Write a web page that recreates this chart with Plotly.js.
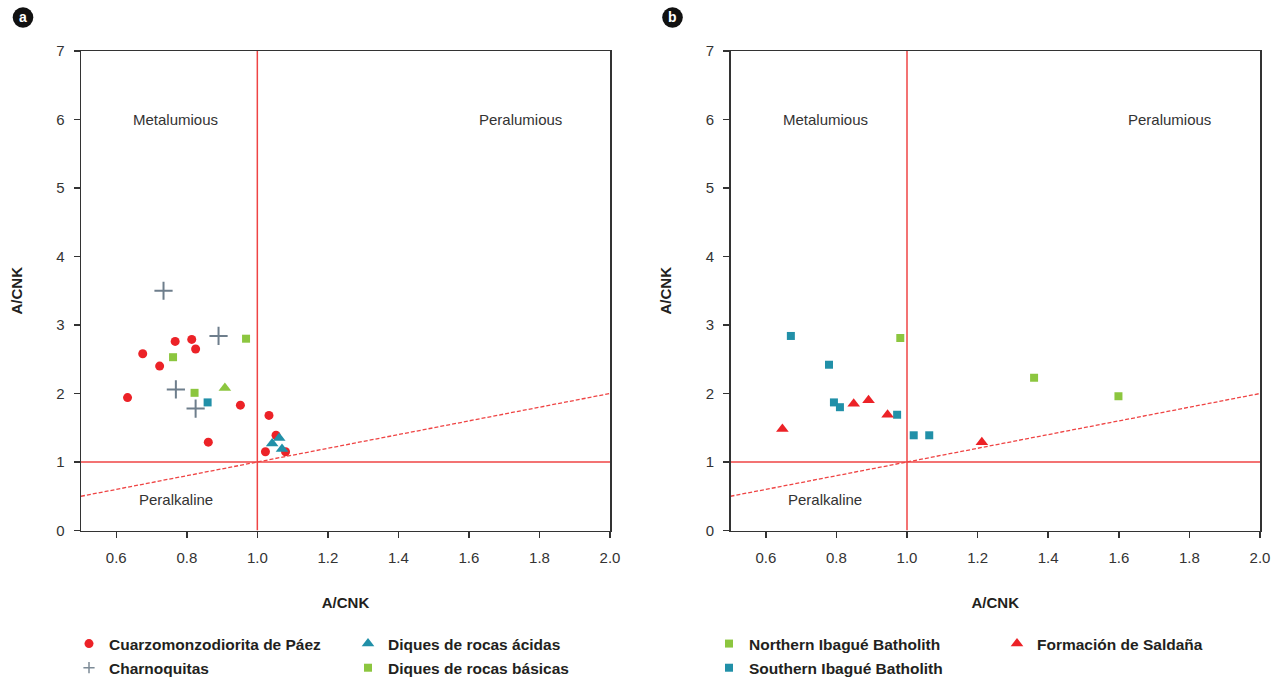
<!DOCTYPE html>
<html>
<head>
<meta charset="utf-8">
<script src="https://cdn.plot.ly/plotly-3.0.1.min.js"></script>
<style>html,body{margin:0;padding:0;background:#fff;}#chart{width:1276px;height:678px;}</style>
</head>
<body>
<div id="chart"></div>
<script>
// ---- Panel a data ----
const paezX = [0.767, 0.814, 0.825, 0.675, 0.723, 0.632, 0.952, 1.033, 0.861, 1.053, 1.023, 1.080];
const paezY = [2.76, 2.79, 2.65, 2.58, 2.40, 1.94, 1.83, 1.68, 1.29, 1.39, 1.15, 1.15];
const charnoX = [0.734, 0.890, 0.769, 0.825];
const charnoY = [3.50, 2.84, 2.06, 1.78];
const acidasTealX = [1.062, 1.042, 1.070];
const acidasTealY = [1.35, 1.27, 1.19];
const acidasGreenX = [0.908];
const acidasGreenY = [2.08];
const basicasGreenX = [0.968, 0.761, 0.822];
const basicasGreenY = [2.80, 2.53, 2.01];
const basicasTealX = [0.859];
const basicasTealY = [1.87];

// ---- Panel b data ----
const northX = [0.981, 1.360, 1.599];
const northY = [2.81, 2.23, 1.96];
const southX = [0.671, 0.779, 0.793, 0.810, 0.972, 1.019, 1.063];
const southY = [2.84, 2.42, 1.87, 1.80, 1.69, 1.39, 1.39];
const saldanaX = [0.647, 0.849, 0.891, 0.945, 1.212];
const saldanaY = [1.48, 1.85, 1.90, 1.69, 1.29];

// ---- Boundary lines ----
const hLineX = [0.5, 2.0], hLineY = [1, 1];
const vLineX = [1, 1], vLineY = [0, 7];
const dLineX = [0.5, 2.0], dLineY = [0.5, 2.0];

// ---- Ticks / labels ----
const xTickVals = [0.6, 0.8, 1.0, 1.2, 1.4, 1.6, 1.8, 2.0];
const xTickText = ['0.6', '0.8', '1.0', '1.2', '1.4', '1.6', '1.8', '2.0'];
const yTickVals = [0, 1, 2, 3, 4, 5, 6, 7];
const fieldLabels = ['Metalumious', 'Peralumious', 'Peralkaline'];
const fieldLabelX = [0.769, 1.745, 0.769];
const fieldLabelY = [6.0, 6.0, 0.45];
const axisTitle = 'A/CNK';
const panelLetters = ['a', 'b'];

const RED = '#ec2227', TEAL = '#2190a8', GREEN = '#8cc63f', GRAY = '#6e7e8c', LINE = '#ef4444';
const FONT = 'Liberation Sans, Arial, Helvetica, sans-serif';

function lines(xa, ya) {
  return [
    {x: hLineX, y: hLineY, xaxis: xa, yaxis: ya, mode: 'lines', line: {color: LINE, width: 1.5}, showlegend: false, hoverinfo: 'skip'},
    {x: vLineX, y: vLineY, xaxis: xa, yaxis: ya, mode: 'lines', line: {color: LINE, width: 1.5}, showlegend: false, hoverinfo: 'skip'},
    {x: dLineX, y: dLineY, xaxis: xa, yaxis: ya, mode: 'lines', line: {color: LINE, width: 1.3, dash: '4px,2px'}, showlegend: false, hoverinfo: 'skip'}
  ];
}

const traces = [].concat(lines('x', 'y'), lines('x2', 'y2'), [
  {x: paezX, y: paezY, xaxis: 'x', yaxis: 'y', mode: 'markers', name: 'Cuarzomonzodiorita de Páez',
   marker: {symbol: 'circle', size: 9, color: RED}, legend: 'legend', legendgroup: 'g1'},
  {x: charnoX, y: charnoY, xaxis: 'x', yaxis: 'y', mode: 'markers', name: 'Charnoquitas',
   marker: {symbol: 'cross-thin', size: 13, color: GRAY, line: {color: GRAY, width: 2}}, showlegend: false},
  // legend swatch only (no marks drawn), smaller like the reference key
  {x: [null], y: [null], xaxis: 'x', yaxis: 'y', mode: 'markers', name: 'Charnoquitas',
   marker: {symbol: 'cross-thin', size: 8, color: '#7d8b97', line: {color: '#7d8b97', width: 1.5}}, legend: 'legend', legendgroup: 'g2'},
  {x: acidasTealX, y: acidasTealY, xaxis: 'x', yaxis: 'y', mode: 'markers', name: 'Diques de rocas ácidas',
   marker: {symbol: 'triangle-up', size: 11, color: TEAL}, legend: 'legend2', legendgroup: 'g3'},
  {x: acidasGreenX, y: acidasGreenY, xaxis: 'x', yaxis: 'y', mode: 'markers', name: 'Diques de rocas ácidas (green)',
   marker: {symbol: 'triangle-up', size: 11, color: GREEN}, showlegend: false},
  {x: basicasGreenX, y: basicasGreenY, xaxis: 'x', yaxis: 'y', mode: 'markers', name: 'Diques de rocas básicas',
   marker: {symbol: 'square', size: 8, color: GREEN}, legend: 'legend2', legendgroup: 'g4'},
  {x: basicasTealX, y: basicasTealY, xaxis: 'x', yaxis: 'y', mode: 'markers', name: 'Diques de rocas básicas (teal)',
   marker: {symbol: 'square', size: 8, color: TEAL}, showlegend: false},
  {x: northX, y: northY, xaxis: 'x2', yaxis: 'y2', mode: 'markers', name: 'Northern Ibagué Batholith',
   marker: {symbol: 'square', size: 8, color: GREEN}, legend: 'legend3', legendgroup: 'g5'},
  {x: southX, y: southY, xaxis: 'x2', yaxis: 'y2', mode: 'markers', name: 'Southern Ibagué Batholith',
   marker: {symbol: 'square', size: 8, color: TEAL}, legend: 'legend3', legendgroup: 'g6'},
  {x: saldanaX, y: saldanaY, xaxis: 'x2', yaxis: 'y2', mode: 'markers', name: 'Formación de Saldaña',
   marker: {symbol: 'triangle-up', size: 11, color: RED}, legend: 'legend4', legendgroup: 'g7'}
]);

const W = 1276, H = 678;
const xDomA = [81 / W, 610 / W], xDomB = [730.5 / W, 1260 / W];
const yDom = [(H - 530.5) / H, (H - 51) / H];

function xAxis(domain, anchor) {
  return {domain: domain, anchor: anchor, range: [0.5, 2.0], tickvals: xTickVals, ticktext: xTickText,
    showline: true, mirror: true, linecolor: '#333', linewidth: 1.5, ticks: 'outside', ticklen: 6, tickwidth: 1.5,
    tickcolor: '#333', showgrid: false, zeroline: false, ticklabelstandoff: 7,
    tickfont: {family: FONT, size: 15, color: '#333'},
    title: {text: axisTitle, standoff: 32, font: {family: FONT, size: 15, color: '#231f20', weight: 'bold'}}};
}
function yAxis(anchor) {
  return {domain: yDom, anchor: anchor, range: [0, 7], tickvals: yTickVals,
    showline: true, mirror: true, linecolor: '#333', linewidth: 1.5, ticks: 'outside', ticklen: 6, tickwidth: 1.5,
    tickcolor: '#333', showgrid: false, zeroline: false, ticklabelstandoff: 6,
    tickfont: {family: FONT, size: 15, color: '#333'},
    title: {text: axisTitle, standoff: 30, font: {family: FONT, size: 15, color: '#231f20', weight: 'bold'}}};
}

const annotations = [];
['x', 'x2'].forEach(function (xa, p) {
  const ya = p === 0 ? 'y' : 'y2';
  fieldLabels.forEach(function (t, i) {
    annotations.push({text: t, x: fieldLabelX[i], y: fieldLabelY[i], xref: xa, yref: ya, showarrow: false,
      font: {family: FONT, size: 15, color: '#333'}});
  });
});
const letterCx = [23, 672.5], letterCy = 17.5, letterR = 10.3;
const shapes = [];
panelLetters.forEach(function (L, i) {
  shapes.push({type: 'circle', xref: 'paper', yref: 'paper',
    x0: (letterCx[i] - letterR) / W, x1: (letterCx[i] + letterR) / W,
    y0: (H - letterCy - letterR) / H, y1: (H - letterCy + letterR) / H,
    fillcolor: '#111', line: {width: 0}});
  annotations.push({text: '<b>' + L + '</b>', xref: 'paper', yref: 'paper', x: letterCx[i] / W, y: (H - letterCy) / H,
    xanchor: 'center', yanchor: 'middle', showarrow: false, font: {family: FONT, size: 14, color: '#fff'}});
});

function legendAt(px, py) {
  return {x: px / W, y: 1 - py / H, xanchor: 'left', yanchor: 'top', orientation: 'v', bgcolor: 'rgba(0,0,0,0)',
    borderwidth: 0, tracegroupgap: 1, font: {family: FONT, size: 15.5, color: '#231f20', weight: 'bold'},
    itemclick: false, itemdoubleclick: false};
}

const layout = {
  width: W, height: H, margin: {l: 0, r: 0, t: 0, b: 0, autoexpand: false}, paper_bgcolor: '#fff', plot_bgcolor: '#fff',
  font: {family: FONT},
  xaxis: xAxis(xDomA, 'y'), yaxis: yAxis('x'),
  xaxis2: xAxis(xDomB, 'y2'), yaxis2: yAxis('x2'),
  annotations: annotations, shapes: shapes,
  legend: legendAt(69, 627), legend2: legendAt(348, 627),
  legend3: legendAt(709, 627), legend4: legendAt(997, 627),
  hovermode: false
};

Plotly.newPlot('chart', traces, layout, {staticPlot: true, displayModeBar: false});
</script>
</body>
</html>
